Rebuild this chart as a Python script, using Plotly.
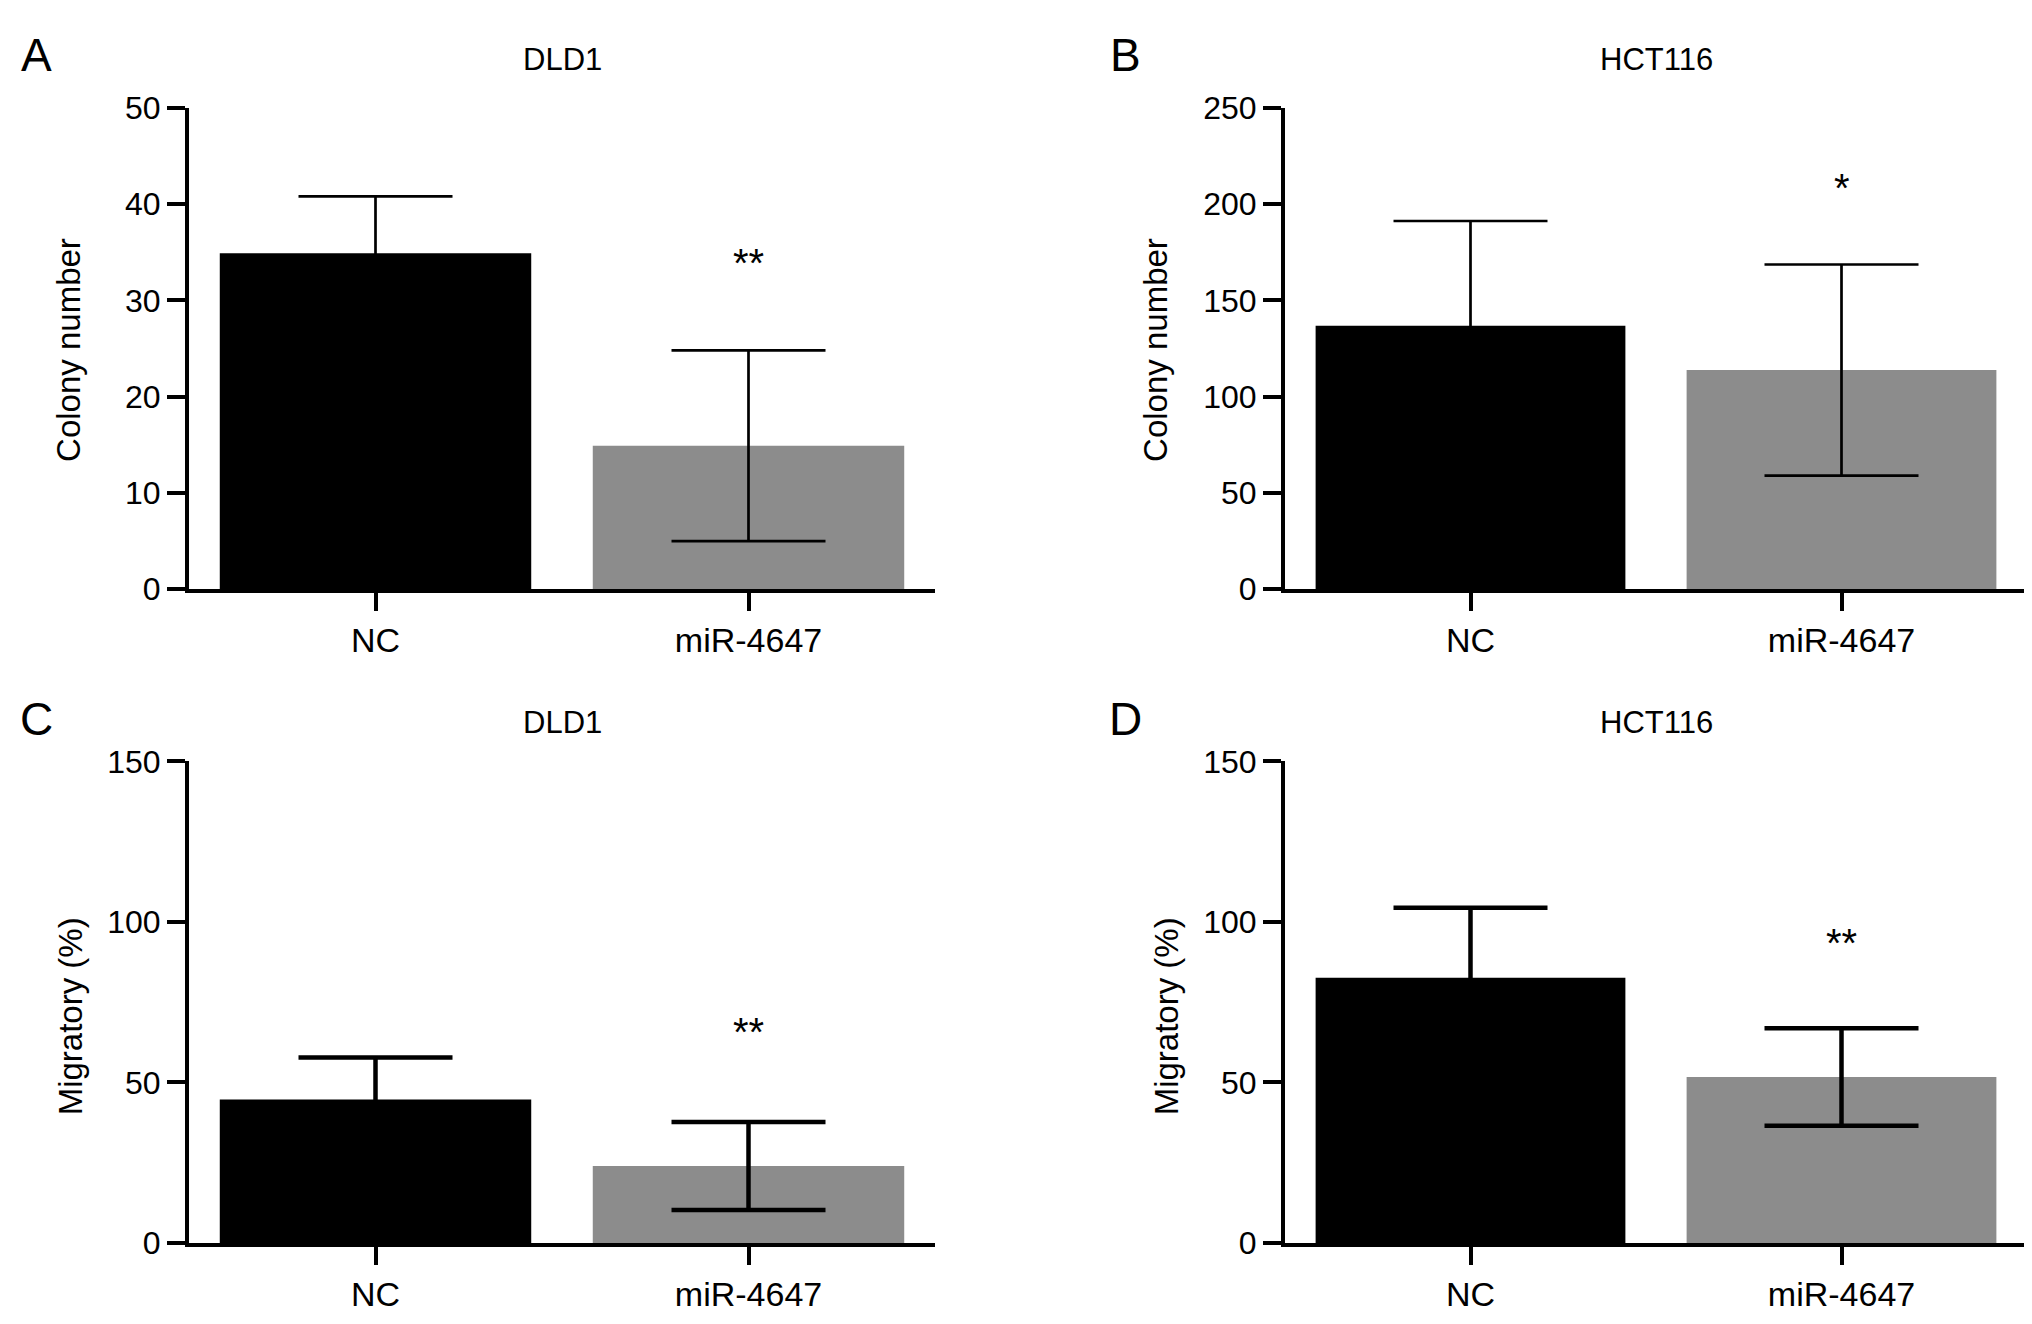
import plotly.graph_objects as go

# group labels
groups = ['NC', 'miR-4647']
bar_colors = ['#000000', '#8c8c8c']

# panel A - DLD1 colony formation
colony_dld1 = [34.9, 14.9]
colony_dld1_err = [5.9, 9.9]
# panel B - HCT116 colony formation
colony_hct = [136.8, 113.8]
colony_hct_err = [54.4, 54.8]
# panel C - DLD1 migration
migr_dld1 = [44.7, 24.0]
migr_dld1_err = [13.1, 13.7]
# panel D - HCT116 migration
migr_hct = [82.6, 51.7]
migr_hct_err = [21.8, 15.2]

# significance marks (label, y position)
sig_marks = [('**', 34.2), ('*', 210), ('**', 66.6), ('**', 94.5)]

panel_letters = ['A', 'B', 'C', 'D']
panel_titles = ['DLD1', 'HCT116', 'DLD1', 'HCT116']
y_titles = ['Colony number', 'Colony number', 'Migratory (%)', 'Migratory (%)']
y_ranges = [[0, 50], [0, 250], [0, 150], [0, 150]]
y_dticks = [10, 50, 50, 50]

W, H = 2032, 1324
x_doms = [[181 / W, 927 / W], [1277 / W, 2019 / W]]
y_doms = [[1 - 579 / H, 1 - 84 / H], [1 - 1251 / H, 1 - 756 / H]]
ytitle_x_px = [61, 1148, 62, 1158]
ytitle_y_px = [333, 333, 1018, 1018]
title_y_px = [34, 716]
letter_x_px = [28, 1117]

fam = 'Liberation Sans, Arial, Helvetica'
tick_font = dict(family=fam, size=32, color='black')
lab_font = dict(family=fam, size=34, color='black')

fig = go.Figure()
data = [(colony_dld1, colony_dld1_err), (colony_hct, colony_hct_err),
        (migr_dld1, migr_dld1_err), (migr_hct, migr_hct_err)]

annots = []
for i, (vals, errs) in enumerate(data):
    row, col = i // 2, i % 2
    n = '' if i == 0 else str(i + 1)
    thick = 2.7 if row == 0 else 4.5
    fig.add_trace(go.Bar(x=groups, y=vals,
                         marker=dict(color=bar_colors, line_width=0),
                         width=0.835,
                         error_y=dict(type='data', array=errs, visible=True,
                                      color='black', thickness=thick, width=77),
                         xaxis='x' + n, yaxis='y' + n,
                         showlegend=False))
    fig.layout['xaxis' + n] = dict(domain=x_doms[col], anchor='y' + n,
                                   range=[-0.5, 1.5], showline=True, linewidth=4,
                                   linecolor='black', ticks='outside', ticklen=18,
                                   tickwidth=4, tickcolor='black', showgrid=False,
                                   zeroline=False, tickfont=lab_font, fixedrange=True)
    fig.layout['yaxis' + n] = dict(domain=y_doms[row], anchor='x' + n,
                                   range=y_ranges[i], dtick=y_dticks[i],
                                   showline=True, linewidth=4, linecolor='black',
                                   ticks='outside', ticklen=18, tickwidth=4,
                                   tickcolor='black', showgrid=False, zeroline=False,
                                   tickfont=tick_font, fixedrange=True)
    # significance
    annots.append(dict(x=groups[1], y=sig_marks[i][1], xref='x' + n, yref='y' + n,
                       text=sig_marks[i][0], showarrow=False, yshift=-3,
                       xanchor='center', yanchor='middle',
                       font=dict(family=fam, size=40, color='black')))
    # title
    annots.append(dict(x=sum(x_doms[col]) / 2, y=1 - title_y_px[row] / H,
                       xref='paper', yref='paper', text=panel_titles[i],
                       xanchor='center', yanchor='middle', showarrow=False,
                       font=dict(family=fam, size=31, color='black')))
    # panel letter
    annots.append(dict(x=letter_x_px[col] / W, y=1 - (title_y_px[row] - 4) / H,
                       xref='paper', yref='paper', text=panel_letters[i],
                       xanchor='center', yanchor='middle', showarrow=False,
                       font=dict(family=fam, size=46, color='black')))
    # y axis title
    annots.append(dict(x=ytitle_x_px[i] / W, y=1 - ytitle_y_px[i] / H,
                       xref='paper', yref='paper', text=y_titles[i], textangle=-90,
                       xanchor='center', yanchor='middle', showarrow=False,
                       font=dict(family=fam, size=33, color='black')))

fig.update_layout(width=W, height=H, margin=dict(l=0, r=0, t=0, b=0),
                  paper_bgcolor='white', plot_bgcolor='white',
                  annotations=annots)

fig.write_html("out.html")
